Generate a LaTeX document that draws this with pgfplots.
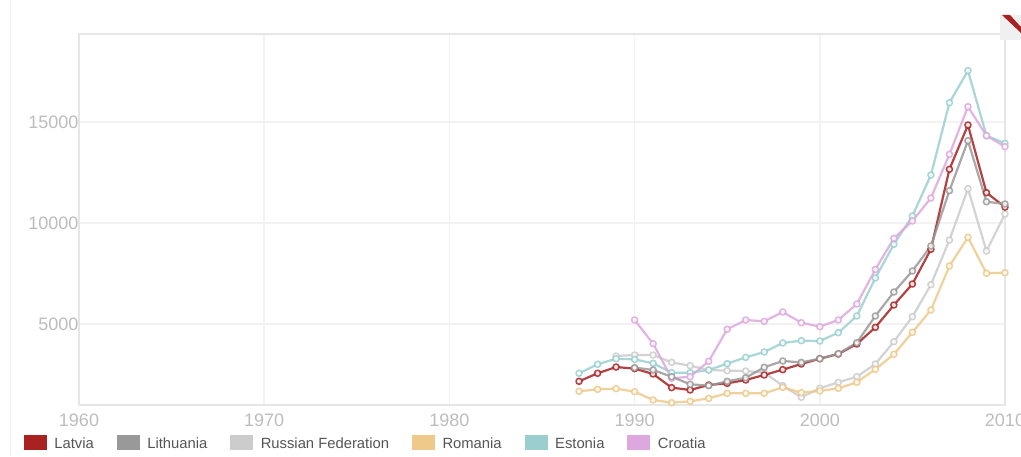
\documentclass[border=0pt]{standalone}
\usepackage{fontspec}
\setmainfont{Liberation Sans}
\usepackage{pgfplots}
\pgfplotsset{compat=1.18}
\definecolor{cLatvia}{HTML}{A82222}
\definecolor{cLithuania}{HTML}{999999}
\definecolor{cRussia}{HTML}{CCCCCC}
\definecolor{cRomania}{HTML}{EEC98A}
\definecolor{cEstonia}{HTML}{9BCFCF}
\definecolor{cCroatia}{HTML}{DDA8DD}
\definecolor{frame}{HTML}{E6E6E6}
\definecolor{gridc}{HTML}{F2F2F2}
\definecolor{ticktext}{HTML}{BDBDBD}
\definecolor{legtext}{HTML}{555555}

\pgfplotsset{
  series/.style={forget plot, color=#1, line width=2.2pt, line join=round, opacity=0.85,
    mark=*, mark size=3pt, mark options={fill=white, line width=1.6pt, solid}},
  swatch/.style={legend image code/.code={
    \fill[#1] (0pt,-5pt) rectangle (22pt,9pt);}},
}

\begin{document}
\begin{tikzpicture}[x=1pt,y=1pt]
\path[use as bounding box] (0,0) rectangle (1021,456);
\fill[white] (0,0) rectangle (1021,456);
\draw[gridc, line width=1pt] (10,0) -- (10,456);
\begin{axis}[
  at={(79pt,51pt)}, anchor=south west,
  scale only axis, width=926pt, height=371pt,
  xmin=1960, xmax=2010, ymin=990, ymax=19356,
  xtick={1960,1970,...,2010}, ytick={5000,10000,15000},
  scaled y ticks=false,
  x tick label style={/pgf/number format/1000 sep={}, yshift=-5pt},
  y tick label style={/pgf/number format/1000 sep={}, xshift=3pt},
  /pgf/number format/assume math mode=true,
  tick label style={font=\fontsize{18}{20}\selectfont, text=ticktext},
  tick style={draw=none},
  axis line style={draw=frame, line width=1.6pt},
  grid=major, major grid style={draw=gridc, line width=1.6pt},
  axis on top=false,
  clip=false,
  legend columns=6,
  legend cell align=left,
  legend style={draw=none, fill=none, at={(-55pt,-30pt)}, anchor=north west,
    font=\fontsize{14.8}{16}\selectfont, text=legtext, inner sep=0pt, outer sep=0pt,
    /tikz/every even column/.append style={column sep=21pt},
    /tikz/every odd column/.append style={column sep=6pt}},
]
\addlegendimage{swatch=cLatvia}
\addlegendentry{Latvia}
\addlegendimage{swatch=cLithuania}
\addlegendentry{Lithuania}
\addlegendimage{swatch=cRussia}
\addlegendentry{Russian Federation}
\addlegendimage{swatch=cRomania}
\addlegendentry{Romania}
\addlegendimage{swatch=cEstonia}
\addlegendentry{Estonia}
\addlegendimage{swatch=cCroatia}
\addlegendentry{Croatia}

% Russian Federation
\addplot[series=cRussia] coordinates {
(1989,3416)(1990,3465)(1991,3465)(1992,3100)(1993,2936)(1994,2723)(1995,2690)
(1996,2673)(1997,2590)(1998,1946)(1999,1372)(2000,1817)(2001,2114)(2002,2390)
(2003,3020)(2004,4124)(2005,5361)(2006,6945)(2007,9158)(2008,11700)(2009,8613)(2010,10445)};
% Romania
\addplot[series=cRomania] coordinates {
(1987,1668)(1988,1767)(1989,1800)(1990,1650)(1991,1238)(1992,1105)(1993,1172)
(1994,1320)(1995,1569)(1996,1569)(1997,1569)(1998,1866)(1999,1600)(2000,1683)
(2001,1817)(2002,2114)(2003,2757)(2004,3500)(2005,4589)(2006,5693)(2007,7871)
(2008,9290)(2009,7510)(2010,7540)};
% Estonia
\addplot[series=cEstonia] coordinates {
(1987,2560)(1988,3005)(1989,3282)(1990,3250)(1991,3053)(1992,2590)(1993,2590)
(1994,2723)(1995,3036)(1996,3350)(1997,3614)(1998,4060)(1999,4173)(2000,4158)
(2001,4571)(2002,5396)(2003,7277)(2004,8945)(2005,10346)(2006,12375)(2007,15954)
(2008,17540)(2009,14322)(2010,13945)};
% Croatia
\addplot[series=cCroatia] coordinates {
(1990,5198)(1991,4025)(1992,2312)(1993,2390)(1994,3153)(1995,4738)(1996,5198)
(1997,5132)(1998,5594)(1999,5066)(2000,4868)(2001,5198)(2002,5990)(2003,7700)
(2004,9240)(2005,10100)(2006,11237)(2007,13400)(2008,15757)(2009,14322)(2010,13780)};
% Latvia
\addplot[series=cLatvia] coordinates {
(1987,2163)(1988,2560)(1989,2870)(1990,2790)(1991,2525)(1992,1850)(1993,1733)
(1994,1980)(1995,2063)(1996,2228)(1997,2475)(1998,2740)(1999,3020)(2000,3282)
(2001,3515)(2002,4010)(2003,4835)(2004,5940)(2005,6980)(2006,8700)(2007,12660)
(2008,14850)(2009,11500)(2010,10790)};
% Lithuania
\addplot[series=cLithuania] coordinates {
(1990,2840)(1991,2723)(1992,2390)(1993,2015)(1994,1946)(1995,2163)(1996,2340)
(1997,2857)(1998,3168)(1999,3100)(2000,3282)(2001,3530)(2002,4075)(2003,5396)
(2004,6584)(2005,7624)(2006,8861)(2007,11600)(2008,14074)(2009,11054)(2010,10940)};
\end{axis}
% corner ribbon of the page
\fill[gray!12] (1000,416) -- (1021,416) -- (1021,441) -- (1000,441) -- cycle;
\fill[cLatvia] (1002,441) -- (1010,441) -- (1021,429) -- (1021,423) -- cycle;
\end{tikzpicture}
\end{document}
